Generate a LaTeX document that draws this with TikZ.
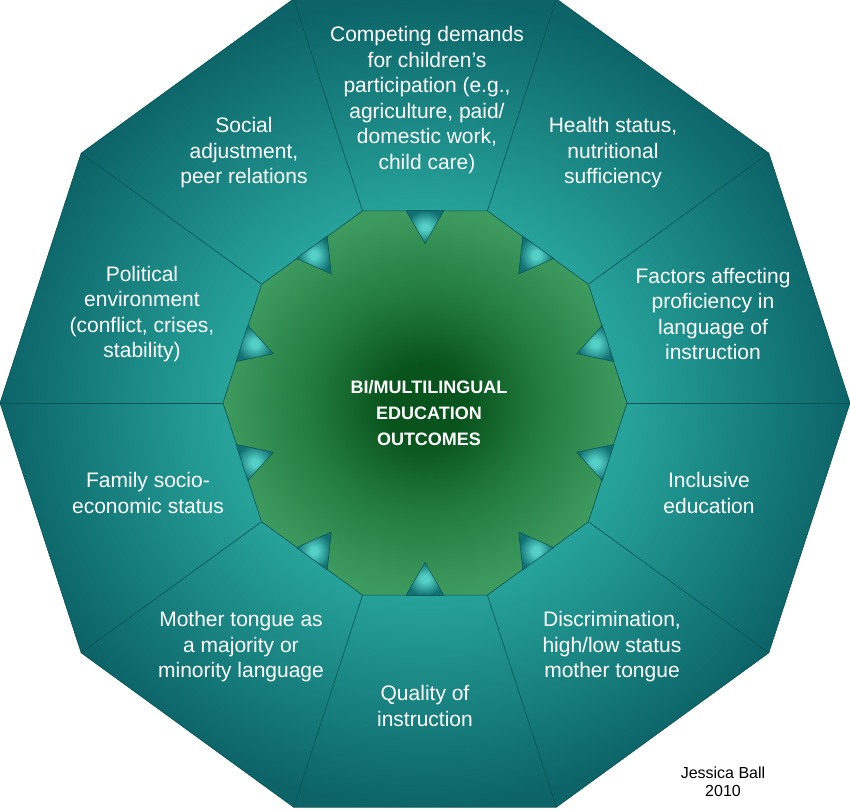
\documentclass[tikz,border=0pt]{standalone}
\usepackage{fontspec}
\setmainfont{Liberation Sans}
\definecolor{tealdark}{RGB}{12,100,104}
\definecolor{teallight}{RGB}{38,162,154}
\definecolor{tealline}{RGB}{8,82,84}
\definecolor{tealglow}{RGB}{84,208,198}
\definecolor{tealedge}{RGB}{16,112,114}
\definecolor{greendark}{RGB}{8,84,28}
\definecolor{greenmid}{RGB}{34,122,62}
\definecolor{greenlight}{RGB}{62,155,96}
\pgfdeclareradialshading{ringshade}{\pgfpoint{0bp}{0bp}}{color(0bp)=(teallight); color(12bp)=(teallight); color(25bp)=(tealdark); color(50bp)=(tealdark)}
\pgfdeclareradialshading{hubshade}{\pgfpoint{0bp}{0bp}}{color(0bp)=(greendark); color(5bp)=(greendark); color(14bp)=(greenmid); color(25bp)=(greenlight); color(50bp)=(greenlight)}
\pgfdeclareradialshading{pointershade}{\pgfpoint{0bp}{0bp}}{color(0bp)=(tealglow); color(5bp)=(tealglow); color(25bp)=(tealedge); color(50bp)=(tealedge)}

\begin{document}
\begin{tikzpicture}[x=1pt, y=1pt,
    divline/.style={draw=tealline, line width=0.6pt},
    pointer/.style={shading=pointershade, draw=tealline, line width=0.5pt},
    seglabel/.style={text=white, align=center, font=\fontsize{21}{25.5}\selectfont},
    hubtext/.style={text=white, align=center, font=\bfseries\fontsize{18}{26}\selectfont},
    signature/.style={text=black, align=center, font=\fontsize{16}{18}\selectfont}]
  \useasboundingbox (-425, -407) rectangle (425, 403);

  \shade [shading=ringshade, divline] (0:425) -- (36:425) -- (72:425) -- (108:425) -- (144:425) -- (180:425) -- (216:425) -- (252:425) -- (288:425) -- (324:425) -- cycle;
  \shade [shading=hubshade, divline] (0:202) -- (36:202) -- (72:202) -- (108:202) -- (144:202) -- (180:202) -- (216:202) -- (252:202) -- (288:202) -- (324:202) -- cycle;

  \draw [divline] (0:202) -- (0:425);
  \draw [divline] (36:202) -- (36:425);
  \draw [divline] (72:202) -- (72:425);
  \draw [divline] (108:202) -- (108:425);
  \draw [divline] (144:202) -- (144:425);
  \draw [divline] (180:202) -- (180:425);
  \draw [divline] (216:202) -- (216:425);
  \draw [divline] (252:202) -- (252:425);
  \draw [divline] (288:202) -- (288:425);
  \draw [divline] (324:202) -- (324:425);

  \shade [pointer, rotate=18] (192.5, -19) -- (192.5, 19) -- (159.5, 0) -- cycle;
  \shade [pointer, rotate=54] (192.5, -19) -- (192.5, 19) -- (159.5, 0) -- cycle;
  \shade [pointer, rotate=90] (192.5, -19) -- (192.5, 19) -- (159.5, 0) -- cycle;
  \shade [pointer, rotate=126] (192.5, -19) -- (192.5, 19) -- (159.5, 0) -- cycle;
  \shade [pointer, rotate=162] (192.5, -19) -- (192.5, 19) -- (159.5, 0) -- cycle;
  \shade [pointer, rotate=198] (192.5, -19) -- (192.5, 19) -- (159.5, 0) -- cycle;
  \shade [pointer, rotate=234] (192.5, -19) -- (192.5, 19) -- (159.5, 0) -- cycle;
  \shade [pointer, rotate=270] (192.5, -19) -- (192.5, 19) -- (159.5, 0) -- cycle;
  \shade [pointer, rotate=306] (192.5, -19) -- (192.5, 19) -- (159.5, 0) -- cycle;
  \shade [pointer, rotate=342] (192.5, -19) -- (192.5, 19) -- (159.5, 0) -- cycle;

  \node [hubtext] (outcomes) at (4, -10) {BI/MULTILINGUAL\\EDUCATION\\OUTCOMES};

  \node [seglabel] (competing) at (2, 303) {Competing demands\\for children’s\\participation (e.g.,\\agriculture, paid/\\domestic work,\\child care)};
  \node [seglabel] (health) at (188, 250) {Health status,\\nutritional\\sufficiency};
  \node [seglabel] (factors) at (288, 89) {Factors affecting\\proficiency in\\language of\\instruction};
  \node [seglabel] (inclusive) at (284, -90) {Inclusive\\education};
  \node [seglabel] (discrimination) at (187, -244) {Discrimination,\\high/low status\\mother tongue};
  \node [seglabel] (quality) at (0, -303) {Quality of\\instruction};
  \node [seglabel] (mothertongue) at (-184, -244) {Mother tongue as\\a majority or\\minority language};
  \node [seglabel] (family) at (-277, -90) {Family socio-\\economic status};
  \node [seglabel] (political) at (-283, 89) {Political\\environment\\(conflict, crises,\\stability)};
  \node [seglabel] (social) at (-181, 250) {Social\\adjustment,\\peer relations};

  \node [signature] (author) at (298, -379) {Jessica Ball\\2010};
\end{tikzpicture}
\end{document}
